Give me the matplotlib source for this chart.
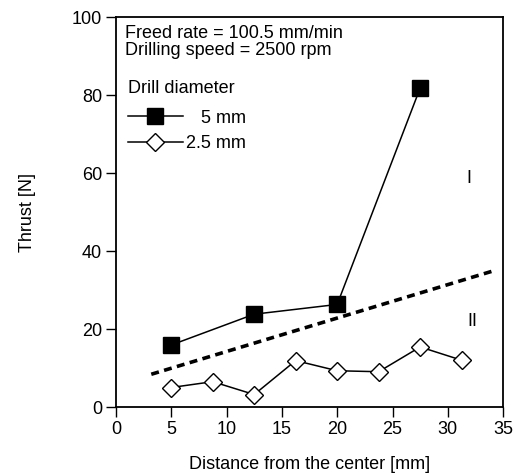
import matplotlib.pyplot as plt
import numpy as np

plt.rcParams['font.family'] = ['Liberation Sans', 'DejaVu Sans']

# drill diameter 5 mm
x_5mm = [5, 12.5, 20, 27.5]
thrust_5mm = [15.9, 23.8, 26.3, 81.8]

# drill diameter 2.5 mm
x_25mm = [5, 8.75, 12.5, 16.25, 20, 23.75, 27.5, 31.25]
thrust_25mm = [5.0, 6.5, 3.2, 11.9, 9.3, 9.05, 15.4, 12.0]

# boundary between regions I and II
x_bound = [3.2, 34.1]
y_bound = [8.4, 34.9]

xticks = [0, 5, 10, 15, 20, 25, 30, 35]
yticks = [0, 20, 40, 60, 80, 100]


def main():
    fig = plt.figure(figsize=(5.15, 4.73), dpi=100)
    ax = fig.add_axes([0.225, 0.1395, 0.752, 0.8245])

    ax.plot(x_5mm, thrust_5mm, color='black', lw=1.1, marker='s',
            ms=12, mfc='black', mec='black', label='   5 mm')
    ax.plot(x_25mm, thrust_25mm, color='black', lw=1.1, marker='D',
            ms=9, mfc='white', mec='black', mew=1.0, label='2.5 mm')
    ax.plot(x_bound, y_bound, color='black', lw=2.6, ls=(0, (2.2, 1.5)))

    ax.set_xlim(0, 35)
    ax.set_ylim(0, 100)
    ax.set_xticks(xticks)
    ax.set_yticks(yticks)
    ax.tick_params(direction='out', length=7, width=1, labelsize=13, colors='black', pad=3)
    for s in ax.spines.values():
        s.set_linewidth(1.3)

    ax.set_xlabel('Distance from the center [mm]', fontsize=13, labelpad=13)
    ax.set_ylabel('Thrust [N]', fontsize=13, labelpad=26)

    ax.text(0.8, 98.0, 'Freed rate = 100.5 mm/min\nDrilling speed = 2500 rpm',
            fontsize=13, va='top', ha='left', linespacing=1.0)
    ax.text(31.9, 58.7, 'I', fontsize=13, ha='center', va='center')
    ax.text(32.2, 21.8, 'II', fontsize=13, ha='center', va='center')

    leg = ax.legend(loc='upper left', bbox_to_anchor=(-0.005, 0.875), frameon=False,
                    title='Drill diameter', fontsize=13, title_fontsize=13,
                    handlelength=3.0, handletextpad=0.2, labelspacing=0.45,
                    borderpad=0.3)
    leg._legend_box.align = 'left'
    leg._legend_box.sep = 9

    fig.savefig('out.png', dpi=100)


if __name__ == '__main__':
    main()
